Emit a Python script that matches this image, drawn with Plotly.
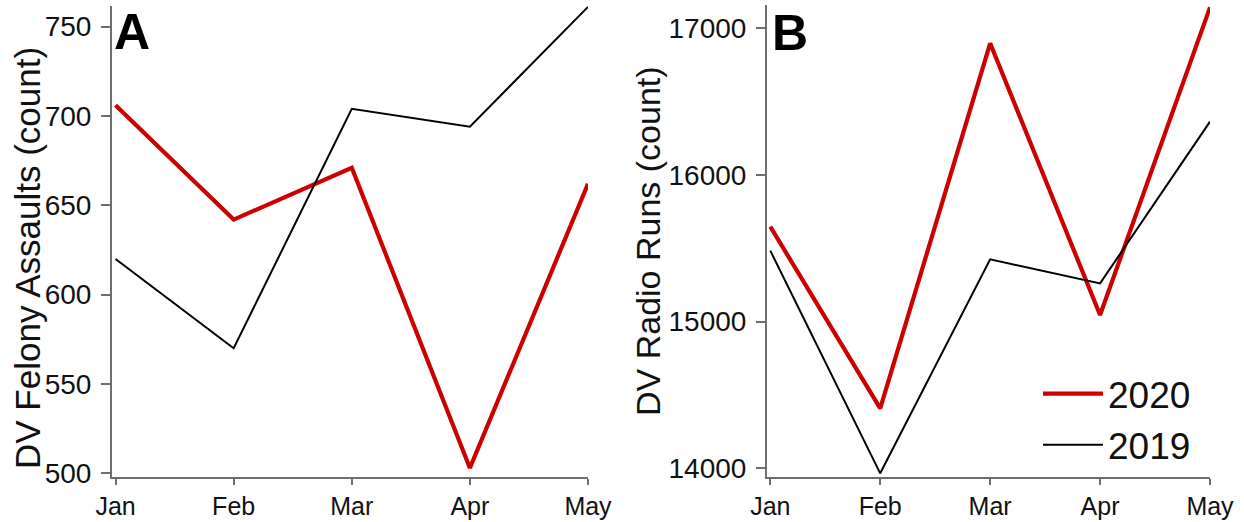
import plotly.graph_objects as go

months = ["Jan", "Feb", "Mar", "Apr", "May"]
felony_2020 = [706, 642, 671, 503, 662]
felony_2019 = [620, 570, 704, 694, 761]
radio_2020 = [15648, 14409, 16898, 15045, 17143]
radio_2019 = [15484, 13966, 15425, 15261, 16364]
felony_ticks = [500, 550, 600, 650, 700, 750]
radio_ticks = [14000, 15000, 16000, 17000]

W, H = 1244, 522
FONT = "Liberation Sans, Arial, sans-serif"
RED = "#cc0000"
BLACK = "#000000"
AXC = "#6e6e6e"

fig = go.Figure()

# Panel A
fig.add_trace(go.Scatter(x=months, y=felony_2020, mode="lines", name="2020",
                         line=dict(color=RED, width=4.2), legendgroup="2020",
                         showlegend=False, xaxis="x", yaxis="y"))
fig.add_trace(go.Scatter(x=months, y=felony_2019, mode="lines", name="2019",
                         line=dict(color=BLACK, width=2), legendgroup="2019",
                         showlegend=False, xaxis="x", yaxis="y"))
# Panel B
fig.add_trace(go.Scatter(x=months, y=radio_2020, mode="lines", name="2020",
                         line=dict(color=RED, width=4.2), legendgroup="2020",
                         showlegend=True, xaxis="x2", yaxis="y2"))
fig.add_trace(go.Scatter(x=months, y=radio_2019, mode="lines", name="2019",
                         line=dict(color=BLACK, width=2), legendgroup="2019",
                         showlegend=True, xaxis="x2", yaxis="y2"))

def px_x(p):
    return p / W

def px_y(p):
    return 1 - p / H

common_x = dict(type="category", showgrid=False, zeroline=False, showline=True,
                linecolor=AXC, linewidth=2, ticks="outside", ticklen=6,
                tickwidth=2, tickcolor=AXC, automargin=False,
                tickfont=dict(family=FONT, size=25, color="#111111"),
                range=[-0.03, 4.0], fixedrange=True)
common_y = dict(showgrid=False, zeroline=False, showline=True,
                linecolor=AXC, linewidth=2, ticks="outside", ticklen=9,
                tickwidth=2, tickcolor=AXC, automargin=False, tickformat="d",
                ticklabelstandoff=4,
                tickfont=dict(family=FONT, size=28, color="#111111"),
                fixedrange=True)

fig.update_layout(
    template="none",
    width=W, height=H,
    margin=dict(l=0, r=0, t=0, b=0, autoexpand=False),
    paper_bgcolor="white", plot_bgcolor="white",
    font=dict(family=FONT, color="#111111"),
    xaxis=dict(common_x, domain=[px_x(112), px_x(588)], anchor="y"),
    yaxis=dict(common_y, domain=[px_y(477), px_y(6)], anchor="x",
               range=[498.0, 761.5], tickvals=felony_ticks),
    xaxis2=dict(common_x, domain=[px_x(767), px_x(1210)], anchor="y2"),
    yaxis2=dict(common_y, domain=[px_y(477), px_y(5)], anchor="x2",
                range=[13941, 17159], tickvals=radio_ticks),
    legend=dict(x=px_x(1038), y=px_y(363), xanchor="left", yanchor="top",
                bgcolor="rgba(0,0,0,0)", borderwidth=0,
                font=dict(family=FONT, size=37, color="#111111"),
                traceorder="normal", itemwidth=60),
    annotations=[
        dict(text="<b>A</b>", x=px_x(112), y=px_y(2), xref="paper", yref="paper",
             xanchor="left", yanchor="top", showarrow=False,
             font=dict(family=FONT, size=50, color="#000000")),
        dict(text="<b>B</b>", x=px_x(770), y=px_y(3), xref="paper", yref="paper",
             xanchor="left", yanchor="top", showarrow=False,
             font=dict(family=FONT, size=50, color="#000000")),
        dict(text="DV Felony Assaults (count)", x=px_x(27), y=px_y(258),
             xref="paper", yref="paper", xanchor="center", yanchor="middle",
             textangle=-90, showarrow=False,
             font=dict(family=FONT, size=35, color="#111111")),
        dict(text="DV Radio Runs (count)", x=px_x(648), y=px_y(241),
             xref="paper", yref="paper", xanchor="center", yanchor="middle",
             textangle=-90, showarrow=False,
             font=dict(family=FONT, size=34, color="#111111")),
    ],
)

fig.write_html("out.html")
